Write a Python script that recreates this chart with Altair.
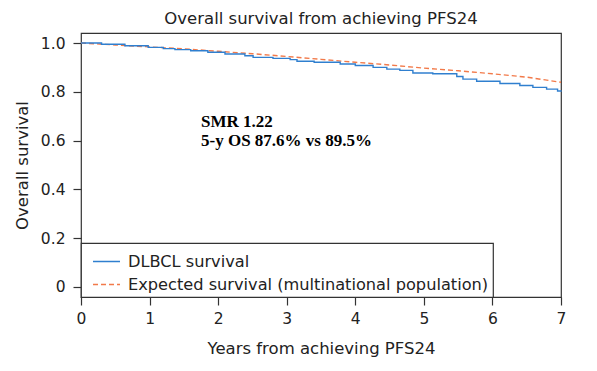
import altair as alt
import pandas as pd

# DLBCL survival (Kaplan-Meier style steps)
dl_years = [0.0, 0.3, 0.64, 0.98, 1.2, 1.37, 1.6, 1.85, 2.1, 2.39, 2.51, 2.8, 3.05, 3.15,
            3.4, 3.78, 4.0, 4.26, 4.46, 4.65, 4.84, 5.13, 5.48, 5.57, 5.77, 6.11, 6.4,
            6.59, 6.79, 6.95, 7.0]
dl_surv = [1.0, 0.995, 0.989, 0.982, 0.977, 0.973, 0.968, 0.962, 0.955, 0.948, 0.941,
           0.937, 0.932, 0.925, 0.921, 0.914, 0.908, 0.900, 0.893, 0.888, 0.877, 0.874,
           0.863, 0.852, 0.843, 0.834, 0.826, 0.818, 0.811, 0.803, 0.800]

# Expected survival (multinational population)
exp_years = [0.0, 0.5, 1.0, 1.5, 2.0, 2.5, 3.0, 3.5, 4.0, 4.5, 5.0, 5.5, 6.0, 6.5, 7.0]
exp_surv = [1.0, 0.992, 0.984, 0.976, 0.966, 0.956, 0.945, 0.933, 0.921, 0.910, 0.897,
            0.886, 0.874, 0.860, 0.839]

series_names = ["DLBCL survival", "Expected survival (multinational population)"]
series_colors = ["#2f7fcf", "#f27a4a"]
series_dash = [[1, 0], [5, 3]]

x_ticks = [0, 1, 2, 3, 4, 5, 6, 7]
y_ticks = [0, 0.2, 0.4, 0.6, 0.8, 1.0]

note_lines = ["SMR 1.22", "5-y OS 87.6% vs 89.5%"]
note_x = [1.75, 1.75]
note_y = [0.675, 0.600]

dl_df = pd.DataFrame({"year": dl_years, "surv": dl_surv, "series": series_names[0]})
exp_df = pd.DataFrame({"year": exp_years, "surv": exp_surv, "series": series_names[1]})
note_df = pd.DataFrame({"x": note_x, "y": note_y, "t": note_lines})

SANS = "DejaVu Sans"

x_enc = alt.X("year:Q",
              scale=alt.Scale(domain=[0, 7], nice=False, zero=False),
              axis=alt.Axis(values=x_ticks, title="Years from achieving PFS24", format="d",
                            labelFlush=False))
y_enc = alt.Y("surv:Q",
              scale=alt.Scale(domain=[-0.041, 1.041], nice=False, zero=False),
              axis=alt.Axis(values=y_ticks, title="Overall survival", labelFlush=False,
                            labelExpr="datum.value == 0 ? '0' : format(datum.value, '.1f')"))
color_enc = alt.Color("series:N",
                      scale=alt.Scale(domain=series_names, range=series_colors),
                      legend=alt.Legend(orient="bottom-left", offset=0),
                      title=None)
dash_enc = alt.StrokeDash("series:N",
                          scale=alt.Scale(domain=series_names, range=series_dash),
                          title=None)

dl_line = alt.Chart(dl_df).mark_line(interpolate="step-after", strokeWidth=1.4).encode(
    x=x_enc, y=y_enc, color=color_enc, strokeDash=dash_enc)
exp_line = alt.Chart(exp_df).mark_line(strokeWidth=1.4).encode(
    x=x_enc, y=y_enc, color=color_enc, strokeDash=dash_enc)

notes = alt.Chart(note_df).mark_text(
    align="left", baseline="middle", font="Liberation Serif", fontWeight="bold",
    fontSize=17, color="#000000").encode(
    x=alt.X("x:Q"), y=alt.Y("y:Q"), text="t:N")

chart = alt.layer(exp_line, dl_line, notes).properties(
    width=480, height=264,
    autosize=alt.AutoSizeParams(type="none"),
    padding={"left": 73, "top": 25, "right": 20, "bottom": 62},
    title=alt.TitleParams("Overall survival from achieving PFS24", anchor="middle",
                          font=SANS, fontSize=16.5, fontWeight="normal",
                          color="#222222", offset=6),
).configure_view(
    stroke="#333333", strokeWidth=1.2
).configure_axis(
    domain=False, ticks=True, tickSize=8, tickColor="#333333", tickWidth=1.2,
    labelFont=SANS, labelFontSize=15.5, labelColor="#222222", labelPadding=4,
    titleFont=SANS, titleFontSize=16.5, titleColor="#222222", titleFontWeight="normal",
    grid=False
).configure_axisY(
    titlePadding=10, labelPadding=8
).configure_axisX(
    titlePadding=14, labelPadding=6
).configure_legend(
    strokeColor="#333333", strokeWidth=1.2, fillColor="#ffffff", padding=4,
    labelFont=SANS, labelFontSize=16.2, labelColor="#222222", labelLimit=1000,
    symbolType="stroke", symbolStrokeWidth=1.5, symbolSize=729, symbolOffset=7,
    rowPadding=0, labelOffset=7, cornerRadius=0
)

chart.save("out.html", embed_options={"renderer": "svg", "actions": False})
